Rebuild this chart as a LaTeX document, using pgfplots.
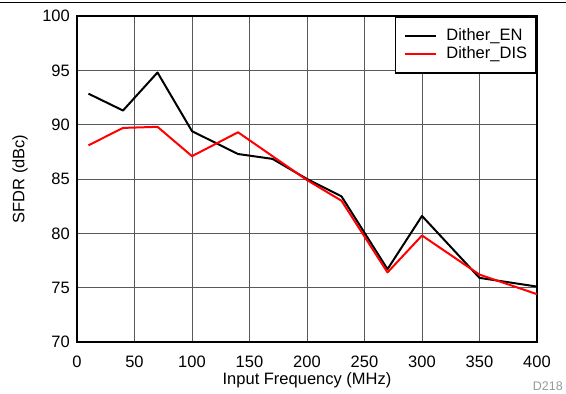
\documentclass[border=0pt]{standalone}
\usepackage{fontspec}
\setmainfont{Liberation Sans}
\usepackage{pgfplots}
\pgfplotsset{compat=1.18}
\begin{document}
\fontsize{16.5}{19}\selectfont
\begin{tikzpicture}
\begin{axis}[
  name=ax,
  scale only axis,
  width=460pt, height=326pt,
  xmin=0, xmax=400, ymin=70, ymax=100,
  xtick={0,50,...,400}, ytick={70,75,...,100},
  major tick length=0pt,
  grid=major,
  major grid style={line width=0.9pt, color=black!65},
  axis line style={line width=2.6pt, black},
  /pgf/number format/assume math mode=true,
  tick label style={font=\fontsize{16.5}{19}\selectfont},
  yticklabel style={anchor=east, inner sep=0pt, xshift=-7pt},
  xticklabel style={anchor=north, inner sep=0pt, yshift=-14pt},
  xlabel={Input Frequency (MHz)},
  ylabel={SFDR (dBc)},
  xlabel style={at={(axis description cs:0.5,0)}, anchor=north, inner sep=0pt, yshift=-30pt},
  ylabel style={at={(axis description cs:0,0.5)}, anchor=center, inner sep=0pt, yshift=57pt},
  label style={font=\fontsize{16.5}{19}\selectfont},
  legend style={at={(1,1)}, anchor=north east, draw=black, line width=1.8pt,
    inner xsep=9pt, inner ysep=10pt, row sep=0pt, column sep=9pt,
    font=\fontsize{16.5}{19}\selectfont,
    nodes={inner xsep=0pt, inner ysep=1pt, text height=12.5pt, text depth=3.5pt}},
  legend cell align=left,
  legend image code/.code={\draw[#1, line width=2pt] (0pt,0pt) -- (31pt,0pt);},
  every axis plot/.append style={line width=2pt, line join=round},
]
\addplot[black] coordinates {
  (10,92.85) (40,91.3) (70,94.8) (100,89.4) (140,87.3) (170,86.85)
  (200,85.0) (230,83.4) (270,76.7) (300,81.6) (350,75.9) (400,75.1)};
\addlegendentry{Dither\_EN}
\addplot[red] coordinates {
  (10,88.1) (40,89.7) (70,89.8) (100,87.1) (140,89.3) (170,87.1)
  (200,84.9) (230,83.0) (270,76.4) (300,79.8) (350,76.2) (400,74.4)};
\addlegendentry{Dither\_DIS}
\end{axis}
\draw[line width=1.2pt, black] ([xshift=-77pt,yshift=13.5pt]ax.north west) -- ([xshift=29pt,yshift=13.5pt]ax.north east);
\node[anchor=base east, inner sep=0pt, text=black!40, font=\fontsize{12.5}{14}\selectfont] at ([xshift=26pt,yshift=-49pt]ax.south east) {D218};
\pgfresetboundingbox
\path ([xshift=-77pt,yshift=-52pt]ax.south west) rectangle ([xshift=29pt,yshift=16pt]ax.north east);
\end{tikzpicture}
\end{document}
